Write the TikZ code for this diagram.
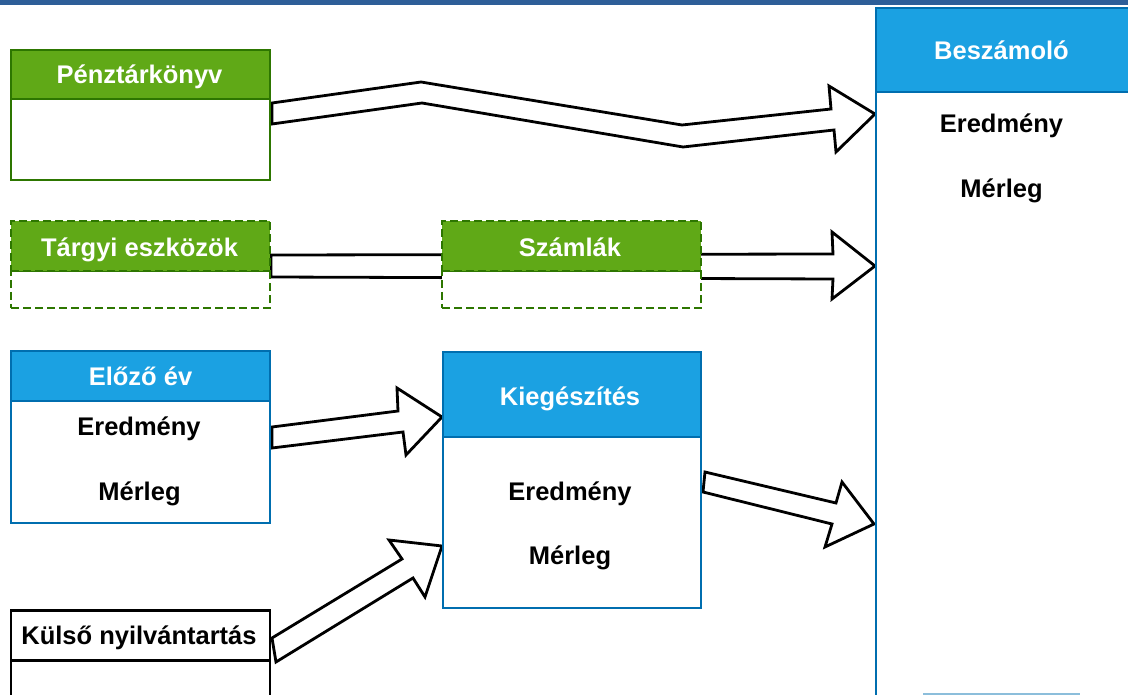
\documentclass[tikz,border=0pt]{standalone}
\usepackage{fontspec}
\setmainfont{Liberation Sans}
\definecolor{gfill}{HTML}{60A917}
\definecolor{gline}{HTML}{2D7600}
\definecolor{bfill}{HTML}{1BA1E2}
\definecolor{bline}{HTML}{006EAF}
\definecolor{topbar}{HTML}{2E5E98}
\tikzset{
  boxbase/.style={draw, line width=2.3pt, inner sep=0pt, outer sep=0pt, anchor=north west},
  ghdr/.style={boxbase, fill=gfill, draw=gline},
  gbody/.style={boxbase, fill=white, draw=gline},
  bhdr/.style={boxbase, fill=bfill, draw=bline},
  bbody/.style={boxbase, fill=white, draw=bline},
  khdr/.style={boxbase, fill=white, draw=black},
  dsh/.style={line width=2.6pt, dash pattern=on 8pt off 4pt},
  lbl/.style={font=\bfseries\fontsize{25.5}{30}\selectfont, text=black, inner sep=0pt, anchor=base},
  wlbl/.style={lbl, text=white},
  blk/.style={draw=black, fill=white, line width=2.8pt, line join=miter}
}
\begin{document}
\begin{tikzpicture}[x=1pt,y=-1pt]
\useasboundingbox (0,0) rectangle (1128,695);
\fill[white] (0,0) rectangle (1128,695);
\fill[topbar] (0,0) rectangle (1128,5);

% block arrows (connectors)
\draw[blk] (272,103) -- (421,82) -- (682,125) -- (831,109) -- (829,86) -- (875,114)
  -- (836,152) -- (834,130) -- (683,147) -- (422,103) -- (272,124) -- cycle;
\draw[blk] (271,255) -- (833,254) -- (832,232) -- (875,266) -- (832,299) -- (833,279)
  -- (271,277) -- cycle;
\draw[blk] (272,427) -- (398,411) -- (397,388) -- (442,417) -- (406,455) -- (403,432)
  -- (272,448) -- cycle;
\draw[blk] (272,638) -- (402,559) -- (389,540) -- (442,546) -- (425,597) -- (413,578)
  -- (276,662) -- cycle;
\draw[blk] (705,472) -- (836,503) -- (842,482) -- (874,524) -- (825,547) -- (832,524)
  -- (703,492) -- cycle;

% Pénztárkönyv
\node[gbody, minimum width=259pt, minimum height=81pt] (pkb) at (11,99) {};
\node[ghdr, minimum width=259pt, minimum height=49pt] (pkh) at (11,50) {};
\node[wlbl] (pkt) at (139.5,84) {Pénztárkönyv};

% Tárgyi eszközök
\node[gbody, dsh, minimum width=259pt, minimum height=37pt] (teb) at (11,271) {};
\node[ghdr, dsh, minimum width=259pt, minimum height=50pt] (teh) at (11,221) {};
\node[wlbl] (tet) at (139.5,256.5) {Tárgyi eszközök};

% Számlák
\node[gbody, dsh, minimum width=259pt, minimum height=37pt] (szb) at (442,271) {};
\node[ghdr, dsh, minimum width=259pt, minimum height=50pt] (szh) at (442,221) {};
\node[wlbl] (szt) at (570,257) {Számlák};

% Előző év
\node[bbody, minimum width=259pt, minimum height=122pt] (eeb) at (11,401) {};
\node[bhdr, minimum width=259pt, minimum height=50pt] (eeh) at (11,351) {};
\node[wlbl] (eet) at (140.5,385.5) {Előző év};
\node[lbl] (eer) at (139,435) {Eredmény};
\node[lbl] (eem) at (139.5,500) {Mérleg};

% Kiegészítés
\node[bbody, minimum width=258pt, minimum height=171pt] (kib) at (443,437) {};
\node[bhdr, minimum width=258pt, minimum height=85pt] (kih) at (443,352) {};
\node[wlbl] (kit) at (570,405) {Kiegészítés};
\node[lbl] (kier) at (570,500) {Eredmény};
\node[lbl] (kiem) at (570,564) {Mérleg};

% Külső nyilvántartás
\node[khdr, minimum width=259pt, minimum height=50pt] (kuh) at (11,610.5) {};
\node[khdr, minimum width=259pt, minimum height=50pt] (kub) at (11,660.5) {};
\node[lbl] (kut) at (139,644) {Külső nyilvántartás};

% Beszámoló
\node[bbody, minimum width=262pt, minimum height=610pt] (bsb) at (876,92) {};
\node[bhdr, minimum width=262pt, minimum height=84pt] (bsh) at (876,8) {};
\draw[bline!45, line width=1.5pt] (923,694) -- (1080,694);
\node[wlbl] (bst) at (1001.5,60) {Beszámoló};
\node[lbl] (bser) at (1001.5,132.5) {Eredmény};
\node[lbl] (bsem) at (1001.5,197.5) {Mérleg};
\end{tikzpicture}
\end{document}
